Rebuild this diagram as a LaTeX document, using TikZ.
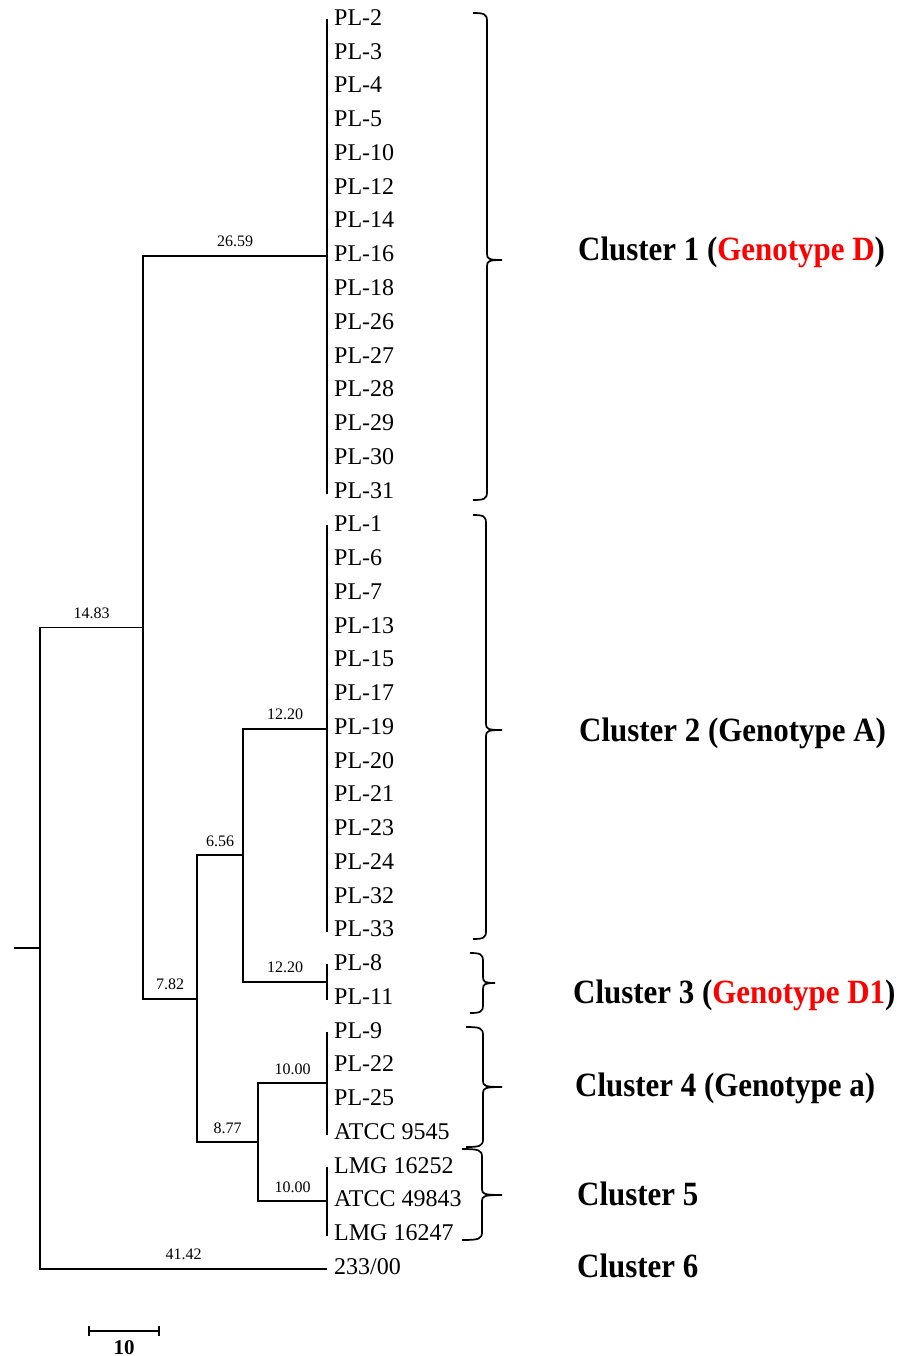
\documentclass[tikz,border=0pt]{standalone}
\usepackage{fontspec}
\setmainfont{Liberation Serif}
\newfontfamily\clfont[FakeStretch=0.91]{Liberation Serif}
\usetikzlibrary{calc}
\newcommand{\clbrace}[6]{% xl, xv, xt, top, mid, bot
  \draw[bracestyle] (#1,#4) .. controls ({#2-3},#4) and (#2,{#4+1}) .. (#2,{#4+8})
    -- (#2,{#5-6}) .. controls (#2,{#5-1}) and ({#2+2},#5) .. (#3,#5)
    .. controls ({#2+2},#5) and (#2,{#5+1}) .. (#2,{#5+6})
    -- (#2,{#6-8}) .. controls (#2,{#6-1}) and ({#2-3},#6) .. (#1,#6);}
\begin{document}
\begin{tikzpicture}[x=1pt,y=-1pt,
  tree/.style={line width=1.8pt, line join=miter},
  bracestyle/.style={line width=1.7pt},
  leaf/.style={anchor=base west, inner sep=0pt, font=\fontsize{24}{24}\selectfont},
  blen/.style={anchor=base, inner sep=0pt, font=\fontsize{16}{16}\selectfont},
  clabel/.style={anchor=base west, inner sep=0pt, font=\clfont\bfseries\fontsize{34}{34}\selectfont}]
\useasboundingbox (0,0) rectangle (905,1356);

% leaves
\foreach \t [count=\i from 0] in {PL-2,PL-3,PL-4,PL-5,PL-10,PL-12,PL-14,PL-16,PL-18,PL-26,PL-27,PL-28,PL-29,PL-30,PL-31,PL-1,PL-6,PL-7,PL-13,PL-15,PL-17,PL-19,PL-20,PL-21,PL-23,PL-24,PL-32,PL-33,PL-8,PL-11,PL-9,PL-22,PL-25,{ATCC 9545},{LMG 16252},{ATCC 49843},{LMG 16247},233/00}{
  \coordinate (b\i) at (327,{20+33.75*\i});
  \node[leaf] (l\i) at (334,{25.5+33.75*\i}) {\t};
}

% group midpoints and internal nodes
\coordinate (g1) at (327,256.25);
\coordinate (g2) at (327,728.75);
\coordinate (g3) at (327,981.9);
\coordinate (g4) at (327,1083.1);
\coordinate (g5) at (327,1201.25);
\coordinate (C) at (243,855.3);
\coordinate (D) at (258,1142.2);
\coordinate (B) at (197,998.75);
\coordinate (A) at (143,627.5);
\coordinate (R) at (40,948.1);
\coordinate (stub) at (14,948.1);

% leaf bars
\draw[tree] ($(b0)+(0,-1)$) -- ($(b14)+(0,1)$);
\draw[tree] ($(b15)+(0,-1)$) -- ($(b27)+(0,1)$);
\draw[tree] ($(b28)+(0,-1)$) -- ($(b29)+(0,1)$);
\draw[tree] ($(b30)+(0,-1)$) -- ($(b33)+(0,1)$);
\draw[tree] ($(b34)+(0,-1)$) -- ($(b36)+(0,1)$);

% branches
\draw[tree] (g2) -| (C) |- (g3);
\draw[tree] (g4) -| (D) |- (g5);
\draw[tree] (C) -| (B) |- (D);
\draw[tree] (g1) -| (A) |- (B);
\draw[tree] (A) -| (R) |- (b37);
\draw[tree] (stub) -- (R);

% branch lengths
\node[blen] (n1) at (235,246.5) {26.59};
\node[blen] (n2) at (91.5,618) {14.83};
\node[blen] (n3) at (285,719.5) {12.20};
\node[blen] (n4) at (285,972.5) {12.20};
\node[blen] (n5) at (220,846) {6.56};
\node[blen] (n6) at (170,989.5) {7.82};
\node[blen] (n7) at (227.5,1133) {8.77};
\node[blen] (n8) at (292.5,1074) {10.00};
\node[blen] (n9) at (292.5,1192) {10.00};
\node[blen] (n10) at (183.5,1259.5) {41.42};

% braces
\clbrace{473}{487}{502}{13}{260}{500}
\clbrace{473}{486}{502}{515}{730}{939}
\clbrace{470}{483}{495}{953}{983}{1013}
\clbrace{466}{483}{502}{1027}{1087}{1147}
\clbrace{462}{482}{502}{1149}{1195}{1240}

% cluster labels
\node[clabel] (c1) at (578,261) {Cluster 1 (\textcolor{red}{Genotype D})};
\node[clabel] (c2) at (579,741) {Cluster 2 (Genotype A)};
\node[clabel] (c3) at (573,1003) {Cluster 3 (\textcolor{red}{Genotype D1})};
\node[clabel] (c4) at (575,1096) {Cluster 4 (Genotype a)};
\node[clabel] (c5) at (577,1205) {Cluster 5};
\node[clabel] (c6) at (577,1277) {Cluster 6};

% scale bar
\coordinate (s1) at (89,1331);
\coordinate (s2) at (159,1331);
\draw[tree] (s1) -- (s2);
\draw[tree] ($(s1)+(0,-5)$) -- ($(s1)+(0,5)$);
\draw[tree] ($(s2)+(0,-5)$) -- ($(s2)+(0,5)$);
\node[anchor=base, inner sep=0pt, font=\bfseries\fontsize{21}{21}\selectfont] (sl) at (124,1354) {10};
\end{tikzpicture}
\end{document}
